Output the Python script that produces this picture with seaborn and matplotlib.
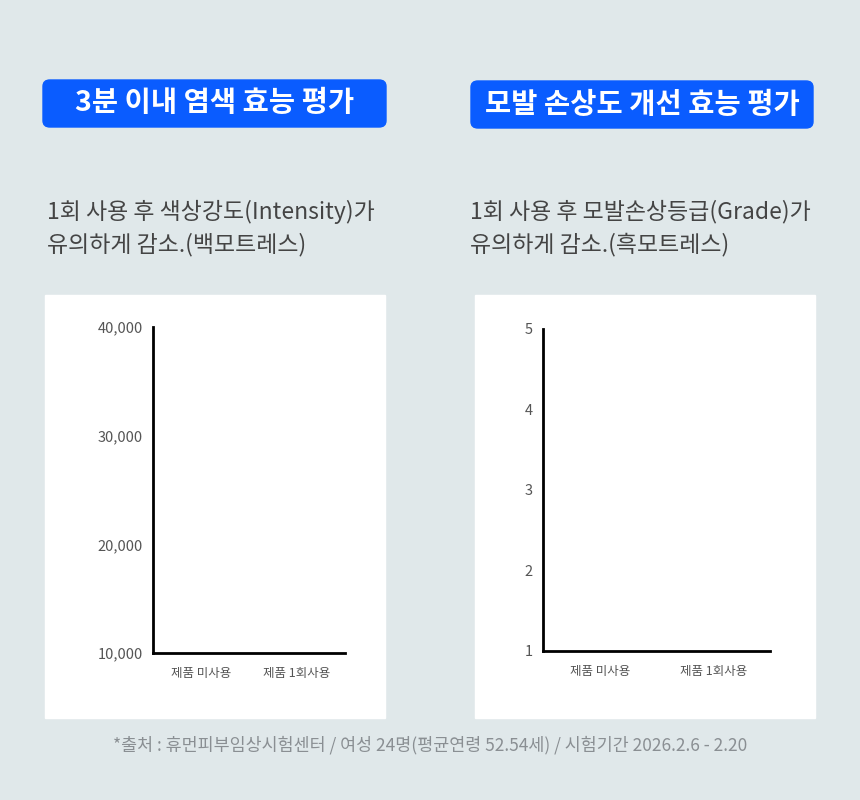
import matplotlib
matplotlib.use("Agg")
import matplotlib.pyplot as plt
import seaborn as sns
from matplotlib.patches import FancyBboxPatch, Rectangle

sns.set_theme(style="white")
plt.rcParams['font.family'] = ['Noto Sans CJK KR', 'DejaVu Sans']

categories = ['제품 미사용', '제품 1회사용']
# 그림에 막대가 보이지 않음: 축 하한값에 맞춰 높이 0으로 그림
intensity = [10000, 10000]
grade = [1, 1]
intensity_ticks = [10000, 20000, 30000, 40000]
grade_ticks = [1, 2, 3, 4, 5]

bg = '#e0e8ea'
blue = '#0a5cff'
fig = plt.figure(figsize=(8.6, 8), dpi=100, facecolor=bg)
W, H = 860, 800

def fx(x): return x / W
def fy(y): return 1 - y / H

# white panels
for x0 in (45, 475):
    fig.patches.append(Rectangle((fx(x0), fy(718)), fx(340), 423 / H,
                                 transform=fig.transFigure, color='white', zorder=0))

# title boxes
for x0, x1, y0, y1, txt in [(43, 386, 80, 127, '3분 이내 염색 효능 평가'),
                            (471, 813, 81, 128, '모발 손상도 개선 효능 평가')]:
    fig.patches.append(FancyBboxPatch((fx(x0), fy(y1)), fx(x1 - x0), (y1 - y0) / H,
                                      boxstyle='round,pad=0,rounding_size=0.008',
                                      transform=fig.transFigure, color=blue))
    fig.text(fx((x0 + x1) / 2), fy((y0 + y1) / 2), txt, color='white', fontsize=20.5,
             fontweight='heavy', ha='center', va='center')

fig.text(fx(47), fy(228), '1회 사용 후 색상강도(Intensity)가\n유의하게 감소.(백모트레스)',
         fontsize=16.5, color='#444444', va='center', linespacing=1.45, fontweight='medium')
fig.text(fx(470), fy(228), '1회 사용 후 모발손상등급(Grade)가\n유의하게 감소.(흑모트레스)',
         fontsize=16.5, color='#444444', va='center', linespacing=1.45, fontweight='medium')
fig.text(0.5, fy(745), '*출처 : 휴먼피부임상시험센터 / 여성 24명(평균연령 52.54세) / 시험기간 2026.2.6 - 2.20',
         fontsize=12.5, color='#8a8f93', ha='center', va='center')

def panel(rect, vals, ticks, fmt):
    ax = fig.add_axes(rect)
    ax.set_zorder(3)
    ax.set_facecolor('none')
    sns.barplot(x=categories, y=vals, ax=ax, color=blue, width=0.5)
    ax.set_ylim(ticks[0], ticks[-1])
    ax.set_xlim(-0.5, 1.5)
    ax.set_yticks(ticks)
    ax.set_yticklabels([fmt(t) for t in ticks])
    for s in ('top', 'right'):
        ax.spines[s].set_visible(False)
    for s in ('left', 'bottom'):
        ax.spines[s].set_color('black')
        ax.spines[s].set_linewidth(2)
    ax.tick_params(axis='y', length=4, width=1.5, colors='black', labelcolor='#555555', labelsize=10.5)
    ax.tick_params(axis='x', length=0, pad=10, labelcolor='#555555', labelsize=9)
    ax.set_xlabel('')
    ax.set_ylabel('')
    return ax

panel([fx(153), fy(653), fx(192), 326 / H], intensity, intensity_ticks, lambda t: f'{t:,}')
panel([fx(543), fy(651), fx(227), 322 / H], grade, grade_ticks, lambda t: str(t))

fig.savefig('out.png', dpi=100, facecolor=bg)
